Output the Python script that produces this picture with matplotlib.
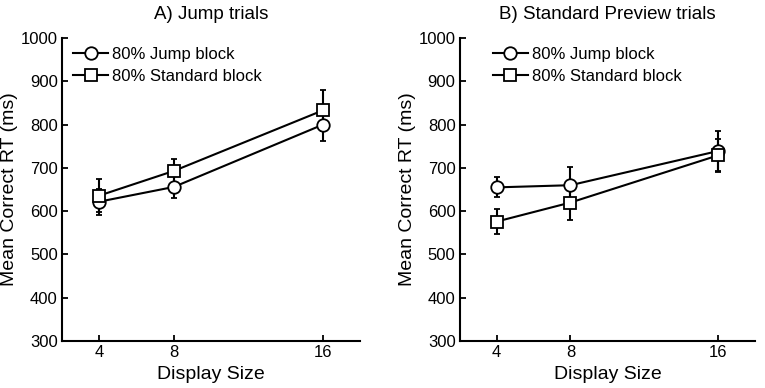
import numpy as np
import matplotlib.pyplot as plt
from matplotlib.lines import Line2D

plt.rcParams['font.family'] = ['Liberation Sans', 'DejaVu Sans']

display_size = [4, 8, 16]

# A) Jump trials
a_jump = [622, 656, 800]
a_jump_err = [30, 25, 38]
a_std = [636, 693, 833]
a_std_err = [38, 28, 48]

# B) Standard Preview trials
b_jump = [655, 660, 739]
b_jump_err = [23, 42, 47]
b_std = [576, 620, 729]
b_std_err = [29, 40, 38]

titles = ['A) Jump trials', 'B) Standard Preview trials']
labels = ['80% Jump block', '80% Standard block']

fig = plt.figure(figsize=(7.65, 3.88), dpi=100)
ax1 = fig.add_axes([0.081, 0.121, 0.390, 0.781])
ax2 = fig.add_axes([0.601, 0.121, 0.386, 0.781])

panels = [(ax1, a_jump, a_jump_err, a_std, a_std_err),
          (ax2, b_jump, b_jump_err, b_std, b_std_err)]

style = dict(color='black', ms=9, mfc='white', mec='black', mew=1.3, lw=1.5)

for i, (ax, jm, je, sm, se) in enumerate(panels):
    ax.errorbar(display_size, jm, yerr=je, marker='o', elinewidth=1.5,
                capsize=2, zorder=3, **style)
    ax.errorbar(display_size, sm, yerr=se, marker='s', elinewidth=1.5,
                capsize=2, zorder=3, **style)
    ax.set_xlim(2, 18)
    ax.set_ylim(300, 1000)
    ax.set_xticks(display_size)
    ax.set_yticks(range(300, 1001, 100))
    ax.tick_params(direction='in', length=4, width=1.3, labelsize=12, pad=3)
    ax.spines['top'].set_visible(False)
    ax.spines['right'].set_visible(False)
    ax.spines['left'].set_linewidth(1.5)
    ax.spines['bottom'].set_linewidth(1.5)
    ax.set_xlabel('Display Size', fontsize=14, labelpad=4)
    ax.set_ylabel('Mean Correct RT (ms)', fontsize=14, labelpad=2)
    ax.set_title(titles[i], fontsize=13.5, pad=14)
    handles = [Line2D([], [], marker='o', **style),
               Line2D([], [], marker='s', **style)]
    ax.legend(handles, labels, loc='upper left', frameon=False, fontsize=12,
              handlelength=2.1, handletextpad=0.25, borderaxespad=0,
              borderpad=0, labelspacing=0.45,
              bbox_to_anchor=(0.037 if i == 0 else 0.112, 0.972))

fig.savefig('out.png', dpi=100)
